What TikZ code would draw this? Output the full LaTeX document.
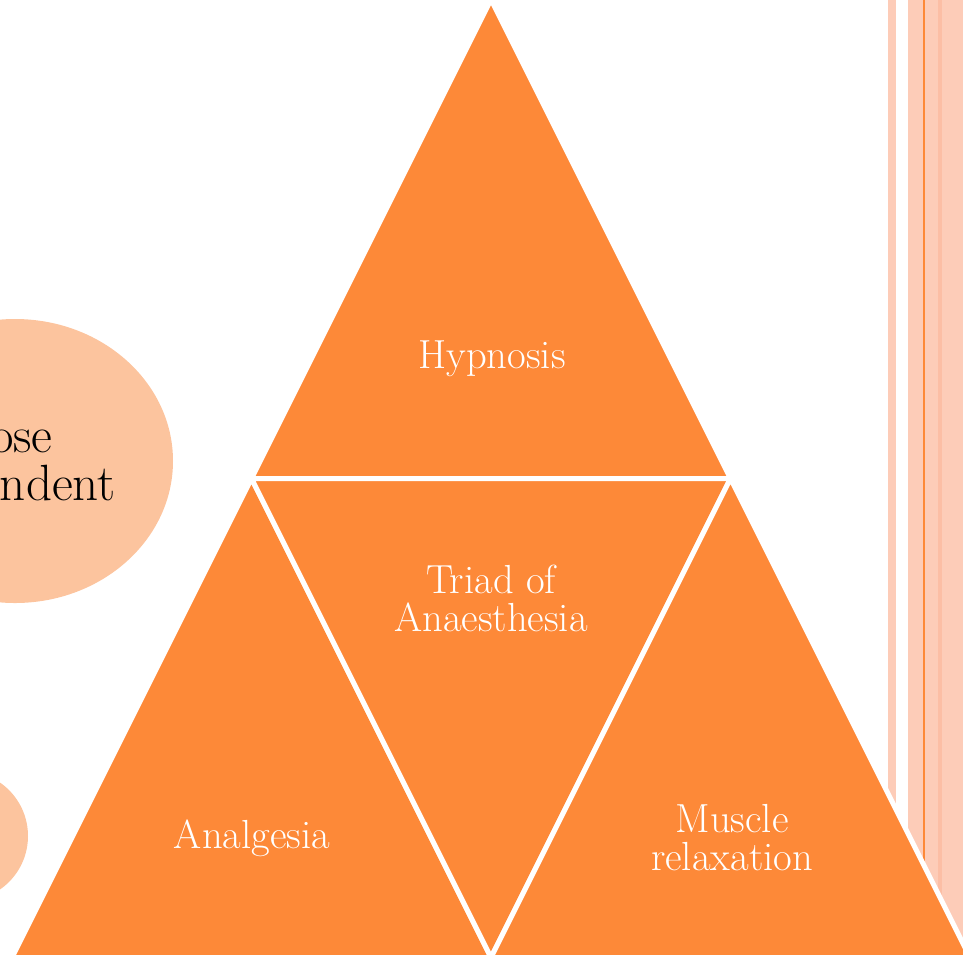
\documentclass[tikz,border=0pt]{standalone}
\usetikzlibrary{shapes.geometric}

\definecolor{triorange}{RGB}{253,137,56}
\definecolor{blobpeach}{RGB}{252,196,158}
\definecolor{barpink}{RGB}{253,204,184}
\definecolor{barshade}{RGB}{252,190,165}

\begin{document}
\begin{tikzpicture}[x=0.5pt, y=-0.5pt,
    tri/.style={fill=triorange, draw=white, line width=2.5pt, line join=miter},
    lbl/.style={text=white, align=center, font=\fontsize{20.3}{19}\selectfont}]

    \useasboundingbox (0,0) rectangle (963,955);
    \clip (0,0) rectangle (963,955);

    % side bars
    \fill[barpink] (888,0) rectangle (896,955);
    \fill[barpink] (908,0) rectangle (963,955);
    \fill[barshade] (938,0) rectangle (942,955);
    \fill[triorange] (923,0) rectangle (925,955);

    % bubbles on the left
    \node[ellipse,
    fill = blobpeach,
    inner sep = 0pt,
    minimum width = 158pt,
    minimum height = 142pt] (bubble1) at (15,461) {};

    \node[ellipse,
    fill = blobpeach,
    inner sep = 0pt,
    minimum width = 65pt,
    minimum height = 65pt] (bubble2) at (-37,836) {};

    \node[anchor=base east, inner sep=0pt, font=\fontsize{25.5}{24}\selectfont] (txt1) at (53,452) {ose};
    \node[anchor=base east, inner sep=0pt, font=\fontsize{25.5}{24}\selectfont] (txt2) at (116,500) {ndent};

    % the triangle
    \coordinate (apex) at (491,-0.5);
    \coordinate (ml) at (251.5,478.5);
    \coordinate (mr) at (730.5,478.5);
    \coordinate (bl) at (12,957.5);
    \coordinate (bm) at (491,957.5);
    \coordinate (br) at (970,957.5);

    \draw[tri] (apex) -- (mr) -- (ml) -- cycle;
    \draw[tri] (ml) -- (bm) -- (bl) -- cycle;
    \draw[tri] (ml) -- (mr) -- (bm) -- cycle;
    \draw[tri] (mr) -- (br) -- (bm) -- cycle;

    \node[lbl, anchor=base] (hyp) at (492,368) {Hypnosis};
    \node[lbl] (triad) at (491,598) {Triad of\\Anaesthesia};
    \node[lbl, anchor=base] (anal) at (252,848) {Analgesia};
    \node[lbl] (muscle) at (732,838) {Muscle\\relaxation};
\end{tikzpicture}
\end{document}
